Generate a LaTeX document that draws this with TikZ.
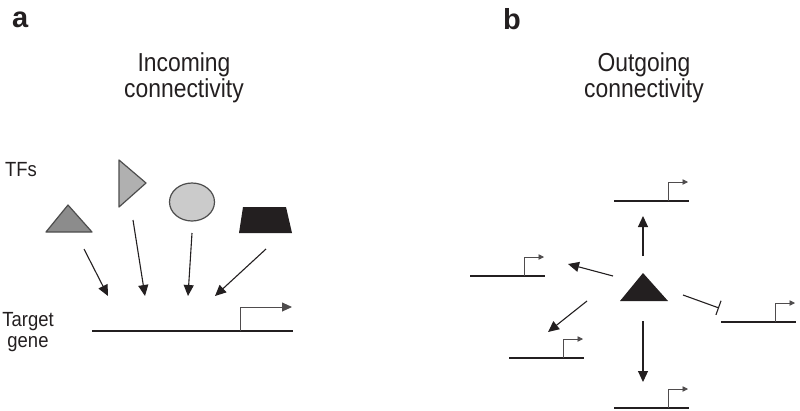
\documentclass[tikz,border=0pt]{standalone}
\usepackage{fontspec}
\setmainfont{Liberation Sans}
\usetikzlibrary{arrows.meta}
\definecolor{ink}{HTML}{231F20}
\definecolor{tfdark}{HTML}{8C8C8C}
\definecolor{tfmid}{HTML}{B0B0B0}
\definecolor{tflight}{HTML}{CBCBCB}
\definecolor{edge}{HTML}{4D4D4D}
\tikzset{
  panel/.style={font=\bfseries\fontsize{29}{30}\selectfont, text=ink, inner sep=0pt, anchor=base west},
  title/.style={font=\fontsize{26}{26}\selectfont, text=ink, align=center, inner sep=0pt, xscale=0.88},
  lbl/.style={font=\fontsize{20.5}{21}\selectfont, text=ink, align=center, inner sep=0pt, xscale=0.9},
  tf/.style={draw=edge, line width=1.2pt, line join=round},
  gene/.style={draw=ink, line width=2pt},
  promoter/.style={draw=ink!80, line width=0.9pt, -{Triangle[length=10pt,width=9pt]}},
  smallpromoter/.style={draw=ink!80, line width=0.9pt, -{Triangle[length=5.5pt,width=5.5pt]}},
  link/.style={draw=ink, line width=1.1pt, -{Triangle[length=11pt,width=10pt]}},
  repress/.style={draw=ink, line width=1.1pt, -{Bar[width=15pt,line width=1.1pt]}}
}
\begin{document}
\begin{tikzpicture}[x=1pt, y=-1pt]
  \useasboundingbox (0,0) rectangle (800,410);
  % panel a
  \node[panel] (labelA) at (12,27) {a};
  \node[title] (titleA) at (184,78) {Incoming\\connectivity};
  \node[lbl] (tfs) at (21,170) {TFs};
  \node[lbl] (target) at (28,332) {Target\\gene};
  \filldraw[tf, fill=tfdark] (68,205) -- (92,232) -- (46,232) -- cycle;
  \filldraw[tf, fill=tfmid] (119,160) -- (146,183) -- (119,207) -- cycle;
  \filldraw[tf, fill=tflight] (192,202) ellipse (22.5 and 19);
  \fill[ink] (243,207) -- (286,207) -- (292,233) -- (239,233) -- cycle;
  \coordinate (s1) at (84,249);  \coordinate (e1) at (108,296);
  \coordinate (s2) at (133,220); \coordinate (e2) at (145,296);
  \coordinate (s3) at (192,233); \coordinate (e3) at (188,296);
  \coordinate (s4) at (266,249); \coordinate (e4) at (215,296);
  \draw[link] (s1) -- (e1);
  \draw[link] (s2) -- (e2);
  \draw[link] (s3) -- (e3);
  \draw[link] (s4) -- (e4);
  \draw[gene] (92,331) -- (293,331);
  \draw[promoter] (240,331) -- (240,307) -- (292,307);
  % panel b
  \node[panel] (labelB) at (503,29) {b};
  \node[title] (titleB) at (644,78) {Outgoing\\connectivity};
  \fill[ink] (643,273) -- (668,301) -- (620,301) -- cycle;
  \foreach \gx/\gy in {614/201, 470/276, 509/358, 614/408, 721/322} {
    \draw[gene] (\gx,\gy) -- ++(75,0);
    \draw[smallpromoter] (\gx+54,\gy) -- ++(0,-19) -- ++(20,0);
  }
  \coordinate (up0) at (643,256);  \coordinate (up1) at (643,216);
  \coordinate (lu0) at (613,276);  \coordinate (lu1) at (568,264);
  \coordinate (ll0) at (587,301);  \coordinate (ll1) at (548,332);
  \coordinate (dn0) at (643,321);  \coordinate (dn1) at (643,382);
  \coordinate (rt0) at (683,295);  \coordinate (rt1) at (719,308);
  \draw[link] (up0) -- (up1);
  \draw[link] (lu0) -- (lu1);
  \draw[link] (ll0) -- (ll1);
  \draw[link] (dn0) -- (dn1);
  \draw[repress] (rt0) -- (rt1);
\end{tikzpicture}
\end{document}
